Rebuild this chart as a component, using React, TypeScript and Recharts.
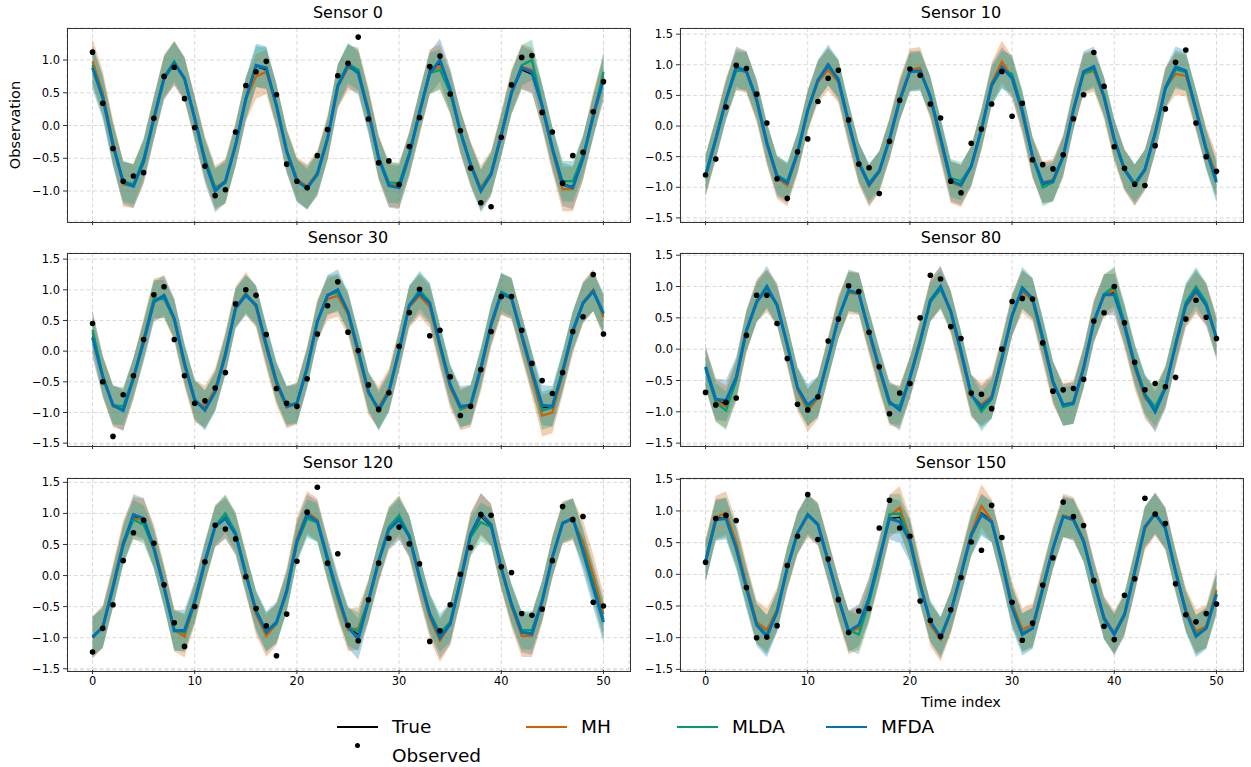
import React from 'react';
import { ComposedChart, Line, Area, XAxis, YAxis, CartesianGrid } from 'recharts';

const TIME = Array.from({ length: 51 }, (_, i) => i);
const X_TICKS = [0, 10, 20, 30, 40, 50];

const COLORS = { truth: '#000000', mh: '#d55e00', mlda: '#029e73', mfda: '#0173b2' };
const BAND = { mh: 0.34, mlda: 0.31, mfda: 0.33 };

// Sensor 0
const s0Obs = [1.12, 0.34, -0.35, -0.85, -0.77, -0.72, 0.11, 0.75, 0.89, 0.41, -0.03, -0.62, -1.07, -0.98, -0.1, 0.61, 0.82, 0.98, 0.47, -0.59, -0.85, -0.95, -0.46, -0.06, 0.76, 0.95, 1.35, 0.1, -0.57, -0.54, -0.9, -0.32, 0.12, 0.9, 1.06, 0.48, -0.08, -0.65, -1.18, -1.24, -0.18, 0.62, 1.04, 1.07, 0.2, -0.1, -0.88, -0.46, -0.41, 0.21, 0.67];
const s0True = [0.92, 0.45, -0.28, -0.85, -0.9, -0.52, 0.12, 0.75, 0.97, 0.7, 0.1, -0.55, -0.97, -0.86, -0.3, 0.4, 0.9, 0.85, 0.3, -0.4, -0.85, -0.95, -0.72, -0.2, 0.6, 0.93, 0.82, 0.2, -0.5, -0.9, -0.93, -0.44, 0.2, 0.85, 0.95, 0.52, -0.1, -0.6, -0.98, -0.73, -0.15, 0.5, 0.85, 0.78, 0.3, -0.35, -0.9, -0.93, -0.48, 0.15, 0.72];
const s0Mh = [0.98, 0.5, -0.25, -0.9, -0.92, -0.55, 0.12, 0.75, 0.95, 0.7, 0.12, -0.5, -0.95, -0.85, -0.28, 0.4, 0.75, 0.82, 0.3, -0.38, -0.82, -0.93, -0.72, -0.18, 0.6, 0.88, 0.85, 0.25, -0.48, -0.9, -0.92, -0.42, 0.18, 0.82, 0.9, 0.5, -0.1, -0.58, -0.95, -0.72, -0.12, 0.52, 0.9, 0.85, 0.28, -0.38, -0.97, -0.97, -0.5, 0.18, 0.75];
const s0Mlda = [0.92, 0.45, -0.28, -0.85, -0.9, -0.5, 0.12, 0.75, 0.98, 0.72, 0.12, -0.5, -0.95, -0.88, -0.3, 0.42, 0.9, 0.88, 0.32, -0.38, -0.82, -0.98, -0.72, -0.2, 0.62, 0.95, 0.85, 0.22, -0.48, -0.87, -0.88, -0.42, 0.22, 0.8, 0.85, 0.5, -0.08, -0.58, -0.98, -0.72, -0.15, 0.5, 0.92, 1.0, 0.32, -0.33, -0.85, -0.85, -0.45, 0.12, 0.82];
const s0Mfda = [0.88, 0.42, -0.3, -0.87, -0.93, -0.55, 0.1, 0.72, 0.95, 0.72, 0.1, -0.55, -1.0, -0.85, -0.3, 0.4, 0.92, 0.88, 0.3, -0.4, -0.85, -0.95, -0.75, -0.2, 0.6, 0.92, 0.8, 0.2, -0.5, -0.92, -0.95, -0.45, 0.2, 0.8, 1.0, 0.55, -0.1, -0.6, -1.0, -0.75, -0.15, 0.5, 0.88, 0.82, 0.3, -0.35, -0.9, -0.95, -0.5, 0.15, 0.7];

// Sensor 10
const s10Obs = [-0.8, -0.54, 0.31, 0.99, 0.94, 0.52, 0.05, -0.86, -1.18, -0.42, -0.21, 0.4, 0.78, 0.91, 0.1, -0.62, -0.68, -1.1, -0.25, 0.42, 0.93, 0.83, 0.36, 0.13, -0.9, -1.09, -0.28, -0.05, 0.36, 0.89, 0.16, 0.37, -0.55, -0.63, -0.7, -0.47, 0.12, 0.51, 1.2, 0.65, -0.34, -0.69, -0.95, -0.97, -0.32, 0.28, 1.04, 1.24, 0.05, -0.5, -0.74];
const s10True = [-0.8, -0.2, 0.44, 0.95, 0.9, 0.42, -0.27, -0.83, -0.95, -0.44, 0.25, 0.74, 0.98, 0.75, 0.05, -0.6, -0.95, -0.75, -0.22, 0.42, 0.9, 0.9, 0.48, -0.2, -0.9, -0.95, -0.65, -0.06, 0.67, 0.97, 0.8, 0.24, -0.5, -0.95, -0.9, -0.5, 0.26, 0.88, 0.95, 0.48, -0.22, -0.7, -0.95, -0.7, -0.12, 0.62, 0.95, 0.88, 0.26, -0.38, -0.9];
const s10Mh = [-0.8, -0.2, 0.45, 0.92, 0.88, 0.4, -0.3, -0.85, -0.97, -0.45, 0.25, 0.72, 0.92, 0.72, 0.02, -0.62, -0.98, -0.75, -0.2, 0.45, 0.92, 0.95, 0.45, -0.25, -0.92, -0.98, -0.65, -0.05, 0.7, 1.05, 0.8, 0.2, -0.52, -0.92, -0.88, -0.48, 0.28, 0.85, 0.9, 0.45, -0.25, -0.72, -0.97, -0.72, -0.1, 0.62, 0.85, 0.82, 0.25, -0.35, -0.8];
const s10Mlda = [-0.78, -0.2, 0.42, 0.9, 0.9, 0.45, -0.25, -0.8, -0.9, -0.42, 0.25, 0.75, 0.97, 0.78, 0.08, -0.58, -0.92, -0.72, -0.2, 0.4, 0.88, 0.9, 0.5, -0.18, -0.85, -0.9, -0.65, -0.05, 0.65, 0.92, 0.85, 0.28, -0.5, -1.0, -0.92, -0.48, 0.25, 0.86, 0.92, 0.48, -0.2, -0.7, -0.93, -0.7, -0.12, 0.6, 0.92, 0.88, 0.28, -0.38, -0.88];
const s10Mfda = [-0.82, -0.22, 0.42, 0.97, 0.89, 0.43, -0.28, -0.82, -0.93, -0.44, 0.26, 0.75, 1.0, 0.75, 0.05, -0.6, -0.96, -0.74, -0.22, 0.42, 0.89, 0.9, 0.48, -0.2, -0.9, -0.96, -0.66, -0.06, 0.67, 0.96, 0.78, 0.24, -0.5, -0.93, -0.9, -0.5, 0.26, 0.89, 0.97, 0.48, -0.22, -0.71, -0.96, -0.71, -0.12, 0.62, 0.97, 0.9, 0.26, -0.39, -0.92];

// Sensor 30
const s30Obs = [0.45, -0.5, -1.39, -0.71, -0.4, 0.19, 0.92, 1.05, 0.19, -0.4, -0.85, -0.81, -0.6, -0.35, 0.77, 1.0, 0.91, 0.27, -0.61, -0.85, -0.9, -0.45, 0.28, 0.74, 1.13, 0.31, 0.01, -0.55, -0.95, -0.68, 0.08, 0.63, 1.01, 0.25, 0.34, -0.42, -1.05, -0.9, -0.3, 0.32, 0.89, 0.89, 0.34, -0.2, -0.48, -0.69, -0.35, 0.32, 0.56, 1.25, 0.28];
const s30True = [0.25, -0.42, -0.9, -0.95, -0.44, 0.16, 0.82, 0.9, 0.52, -0.2, -0.8, -0.95, -0.65, -0.05, 0.7, 0.92, 0.75, 0.1, -0.5, -0.9, -0.85, -0.27, 0.48, 0.9, 0.98, 0.64, 0.0, -0.66, -0.95, -0.66, 0.0, 0.74, 0.95, 0.78, 0.1, -0.55, -0.92, -0.88, -0.28, 0.43, 0.94, 0.86, 0.26, -0.35, -0.92, -0.92, -0.34, 0.32, 0.8, 0.98, 0.6];
const s30Mh = [0.3, -0.4, -0.9, -0.95, -0.45, 0.2, 0.85, 0.88, 0.5, -0.25, -0.82, -0.9, -0.62, -0.02, 0.72, 0.95, 0.72, 0.05, -0.55, -0.92, -0.85, -0.25, 0.5, 0.85, 0.9, 0.6, -0.05, -0.7, -0.92, -0.62, 0.02, 0.72, 0.9, 0.72, 0.05, -0.6, -0.95, -0.9, -0.32, 0.4, 0.92, 0.86, 0.22, -0.4, -1.05, -1.0, -0.38, 0.3, 0.8, 1.0, 0.55];
const s30Mlda = [0.35, -0.4, -0.88, -0.9, -0.42, 0.18, 0.85, 0.85, 0.52, -0.2, -0.78, -0.96, -0.65, -0.05, 0.7, 0.93, 0.75, 0.12, -0.5, -0.88, -0.86, -0.26, 0.48, 0.92, 0.95, 0.65, 0.02, -0.65, -0.98, -0.68, 0.02, 0.75, 1.0, 0.8, 0.12, -0.52, -0.95, -0.86, -0.25, 0.45, 0.97, 0.88, 0.28, -0.32, -0.97, -0.92, -0.32, 0.35, 0.8, 0.96, 0.6];
const s30Mfda = [0.22, -0.42, -0.88, -0.97, -0.44, 0.15, 0.8, 0.91, 0.53, -0.2, -0.8, -0.96, -0.66, -0.06, 0.7, 0.91, 0.75, 0.1, -0.5, -0.9, -0.85, -0.28, 0.48, 0.91, 1.0, 0.64, 0.0, -0.66, -0.96, -0.66, 0.0, 0.75, 0.94, 0.78, 0.1, -0.55, -0.9, -0.88, -0.28, 0.43, 0.94, 0.86, 0.26, -0.33, -0.88, -0.9, -0.33, 0.32, 0.78, 0.98, 0.62];

// Sensor 80
const s80Obs = [-0.69, -0.89, -0.85, -0.78, 0.22, 0.86, 0.86, 0.41, -0.15, -0.88, -0.97, -0.76, 0.13, 0.48, 1.01, 0.92, 0.27, -0.28, -1.03, -0.7, -0.55, 0.5, 1.18, 1.12, 0.36, 0.17, -0.7, -0.72, -0.95, 0.0, 0.76, 0.81, 0.8, 0.1, -0.67, -0.65, -0.63, -0.48, 0.45, 0.58, 1.0, 0.42, -0.21, -0.65, -0.55, -0.6, -0.45, 0.48, 0.78, 0.51, 0.17];
const s80True = [-0.3, -0.82, -0.88, -0.45, 0.3, 0.76, 0.97, 0.7, 0.07, -0.62, -0.92, -0.76, -0.15, 0.49, 0.93, 0.89, 0.28, -0.3, -0.85, -0.95, -0.46, 0.12, 0.78, 0.98, 0.6, -0.04, -0.73, -0.95, -0.78, -0.15, 0.54, 0.96, 0.81, 0.17, -0.52, -0.9, -0.86, -0.3, 0.44, 0.87, 0.9, 0.38, -0.25, -0.73, -0.97, -0.62, 0.07, 0.7, 0.92, 0.72, 0.17];
const s80Mh = [-0.3, -0.82, -0.92, -0.5, 0.28, 0.78, 0.93, 0.72, 0.05, -0.65, -0.98, -0.78, -0.12, 0.52, 0.9, 0.88, 0.25, -0.35, -0.88, -0.92, -0.45, 0.15, 0.78, 0.98, 0.58, -0.08, -0.75, -0.88, -0.75, -0.12, 0.55, 0.92, 0.78, 0.12, -0.55, -0.88, -0.85, -0.28, 0.45, 0.85, 0.95, 0.35, -0.3, -0.78, -0.95, -0.6, 0.05, 0.68, 0.9, 0.72, 0.2];
const s80Mlda = [-0.32, -0.85, -0.98, -0.5, 0.28, 0.75, 0.95, 0.7, 0.08, -0.6, -0.93, -0.75, -0.15, 0.48, 0.92, 0.9, 0.3, -0.3, -0.88, -0.9, -0.45, 0.12, 0.75, 0.95, 0.62, -0.02, -0.72, -1.0, -0.8, -0.15, 0.52, 0.95, 0.82, 0.2, -0.5, -0.92, -0.88, -0.3, 0.42, 0.88, 1.0, 0.42, -0.22, -0.72, -0.92, -0.6, 0.08, 0.75, 1.0, 0.75, 0.18];
const s80Mfda = [-0.28, -0.8, -0.82, -0.45, 0.3, 0.75, 1.0, 0.7, 0.07, -0.62, -0.89, -0.76, -0.15, 0.49, 0.94, 0.89, 0.28, -0.3, -0.84, -0.97, -0.46, 0.12, 0.78, 1.0, 0.6, -0.04, -0.73, -0.92, -0.78, -0.15, 0.54, 0.98, 0.81, 0.17, -0.52, -0.89, -0.86, -0.3, 0.44, 0.87, 0.87, 0.38, -0.25, -0.73, -1.0, -0.62, 0.07, 0.7, 0.94, 0.7, 0.17];

// Sensor 120
const s120Obs = [-1.23, -0.85, -0.47, 0.24, 0.69, 0.89, 0.52, -0.15, -0.76, -1.14, -0.5, 0.22, 0.81, 0.75, 0.59, -0.02, -0.53, -0.81, -1.29, -0.62, 0.23, 1.02, 1.42, 0.2, 0.35, -0.8, -1.05, -0.39, 0.2, 0.6, 0.78, 0.51, 0.19, -1.06, -0.89, -0.47, 0.02, 0.45, 0.98, 0.97, 0.14, 0.05, -0.61, -0.64, -0.54, 0.24, 1.11, 0.9, 0.95, -0.43, -0.49];
const s120True = [-1.0, -0.83, -0.18, 0.5, 0.95, 0.9, 0.45, -0.18, -0.88, -0.92, -0.42, 0.22, 0.8, 0.94, 0.66, 0.02, -0.57, -0.92, -0.76, -0.25, 0.55, 0.97, 0.87, 0.25, -0.35, -0.83, -0.95, -0.41, 0.23, 0.75, 0.92, 0.63, -0.03, -0.62, -0.98, -0.78, -0.09, 0.65, 0.95, 0.8, 0.12, -0.46, -0.92, -0.93, -0.41, 0.29, 0.84, 0.92, 0.42, -0.15, -0.72];
const s120Mh = [-1.0, -0.82, -0.15, 0.55, 0.92, 0.9, 0.48, -0.15, -0.88, -0.98, -0.45, 0.2, 0.8, 0.95, 0.68, 0.05, -0.62, -0.97, -0.78, -0.22, 0.6, 1.02, 0.9, 0.25, -0.38, -0.88, -0.85, -0.4, 0.22, 0.78, 0.95, 0.62, -0.05, -0.68, -1.05, -0.78, -0.08, 0.68, 0.98, 0.82, 0.1, -0.5, -0.97, -0.97, -0.42, 0.3, 0.86, 0.9, 0.55, 0.0, -0.62];
const s120Mlda = [-0.98, -0.85, -0.2, 0.48, 0.9, 0.82, 0.42, -0.2, -0.88, -0.92, -0.45, 0.2, 0.8, 1.0, 0.7, 0.05, -0.55, -0.9, -0.78, -0.28, 0.52, 0.92, 0.85, 0.22, -0.35, -0.82, -0.9, -0.4, 0.25, 0.78, 0.97, 0.65, 0.0, -0.6, -0.92, -0.75, -0.08, 0.62, 0.86, 0.78, 0.12, -0.45, -0.88, -0.88, -0.4, 0.3, 0.85, 0.93, 0.45, -0.12, -0.7];
const s120Mfda = [-0.99, -0.83, -0.19, 0.5, 0.98, 0.92, 0.44, -0.19, -0.89, -0.88, -0.41, 0.23, 0.79, 0.92, 0.66, 0.02, -0.57, -0.91, -0.75, -0.25, 0.55, 0.98, 0.87, 0.28, -0.3, -0.83, -1.02, -0.41, 0.23, 0.74, 0.9, 0.63, -0.03, -0.62, -1.0, -0.78, -0.09, 0.66, 1.0, 0.82, 0.12, -0.46, -0.91, -0.94, -0.41, 0.29, 0.84, 0.92, 0.39, -0.19, -0.75];

// Sensor 150
const s150Obs = [0.19, 0.88, 0.93, 0.85, -0.21, -1.0, -0.99, -0.81, 0.14, 0.6, 1.26, 0.55, 0.24, -0.4, -0.92, -0.58, -0.54, 0.73, 1.17, 0.73, 0.6, -0.42, -0.73, -0.98, -0.56, -0.05, 0.51, 0.38, 1.09, 0.58, -0.44, -1.04, -0.77, -0.17, 0.26, 1.14, 0.91, 0.77, -0.1, -0.82, -1.03, -0.33, -0.07, 1.2, 0.95, 0.8, -0.15, -0.64, -0.75, -0.62, -0.47];
const s150True = [0.22, 0.88, 0.9, 0.42, -0.2, -0.8, -0.95, -0.58, 0.1, 0.65, 0.95, 0.8, 0.2, -0.38, -0.9, -0.85, -0.4, 0.25, 0.88, 0.9, 0.55, -0.17, -0.75, -1.0, -0.6, 0.0, 0.62, 0.97, 0.85, 0.2, -0.52, -0.93, -0.85, -0.22, 0.41, 0.92, 0.88, 0.52, -0.11, -0.7, -0.95, -0.64, 0.04, 0.75, 0.96, 0.73, 0.04, -0.59, -0.95, -0.85, -0.32];
const s150Mh = [0.22, 0.9, 0.97, 0.5, -0.15, -0.75, -0.88, -0.55, 0.1, 0.65, 0.92, 0.8, 0.22, -0.4, -0.92, -0.85, -0.4, 0.2, 0.92, 1.05, 0.58, -0.1, -0.8, -1.03, -0.6, 0.02, 0.65, 1.08, 0.85, 0.2, -0.45, -0.87, -0.8, -0.2, 0.42, 0.93, 0.88, 0.55, -0.1, -0.68, -0.92, -0.62, 0.05, 0.72, 0.95, 0.72, 0.05, -0.55, -0.9, -0.82, -0.25];
const s150Mlda = [0.2, 0.85, 0.9, 0.42, -0.2, -0.78, -0.95, -0.58, 0.12, 0.65, 0.95, 0.8, 0.22, -0.38, -0.88, -0.95, -0.45, 0.2, 0.95, 0.96, 0.55, -0.15, -0.75, -0.98, -0.58, 0.0, 0.6, 0.95, 0.82, 0.22, -0.5, -0.92, -0.85, -0.25, 0.4, 0.9, 0.88, 0.5, -0.12, -0.72, -0.93, -0.62, 0.05, 0.75, 0.96, 0.72, 0.05, -0.58, -0.95, -0.85, -0.3];
const s150Mfda = [0.2, 0.86, 0.88, 0.41, -0.22, -0.8, -0.98, -0.59, 0.1, 0.65, 0.94, 0.78, 0.2, -0.38, -0.9, -0.8, -0.38, 0.25, 0.88, 0.83, 0.52, -0.17, -0.74, -1.0, -0.59, 0.0, 0.62, 0.94, 0.83, 0.2, -0.53, -0.95, -0.85, -0.22, 0.41, 0.91, 0.86, 0.52, -0.11, -0.69, -0.95, -0.64, 0.04, 0.75, 0.96, 0.73, 0.04, -0.59, -0.98, -0.85, -0.32];

const TICKS_1 = [-1, -0.5, 0, 0.5, 1];
const TICKS_15 = [-1.5, -1, -0.5, 0, 0.5, 1, 1.5];

const PLOT_W = 562;
const Y_AXIS_W = 50;
const PAD_T = 5;
const PAD_R = 5;
const X_AXIS_H = 30;
const FONT = '"DejaVu Sans", sans-serif';

const panels = [
  { title: 'Sensor 0', obs: s0Obs, truth: s0True, mh: s0Mh, mlda: s0Mlda, mfda: s0Mfda, domain: [-1.458, 1.489], ticks: TICKS_1, left: 67, top: 28, h: 193, xLabels: false },
  { title: 'Sensor 10', obs: s10Obs, truth: s10True, mh: s10Mh, mlda: s10Mlda, mfda: s10Mfda, domain: [-1.55, 1.6], ticks: TICKS_15, left: 680, top: 28, h: 193, xLabels: false },
  { title: 'Sensor 30', obs: s30Obs, truth: s30True, mh: s30Mh, mlda: s30Mlda, mfda: s30Mfda, domain: [-1.53, 1.6], ticks: TICKS_15, left: 67, top: 253, h: 192, xLabels: false },
  { title: 'Sensor 80', obs: s80Obs, truth: s80True, mh: s80Mh, mlda: s80Mlda, mfda: s80Mfda, domain: [-1.53, 1.535], ticks: TICKS_15, left: 680, top: 253, h: 192, xLabels: false },
  { title: 'Sensor 120', obs: s120Obs, truth: s120True, mh: s120Mh, mlda: s120Mlda, mfda: s120Mfda, domain: [-1.52, 1.57], ticks: TICKS_15, left: 67, top: 478, h: 192, xLabels: true },
  { title: 'Sensor 150', obs: s150Obs, truth: s150True, mh: s150Mh, mlda: s150Mlda, mfda: s150Mfda, domain: [-1.51, 1.52], ticks: TICKS_15, left: 680, top: 478, h: 192, xLabels: true },
];

const fmtY = (v: number) => v.toFixed(1).replace('-', '\u2212');

function Panel({ p }: { p: (typeof panels)[number] }) {
  const data = TIME.map((t, i) => ({
    t,
    obs: p.obs[i],
    truth: p.truth[i],
    mh: p.mh[i],
    mlda: p.mlda[i],
    mfda: p.mfda[i],
    mhBand: [p.mh[i] - BAND.mh, p.mh[i] + BAND.mh],
    mldaBand: [p.mlda[i] - BAND.mlda, p.mlda[i] + BAND.mlda],
    mfdaBand: [p.mfda[i] - BAND.mfda, p.mfda[i] + BAND.mfda],
  }));
  const tickStyle = { fontSize: 11.5, fill: '#000', fontFamily: FONT };

  return (
    <>
      <div
        style={{
          position: 'absolute',
          left: p.left,
          top: p.top - 26,
          width: PLOT_W,
          textAlign: 'center',
          fontSize: 16,
          lineHeight: '22px',
          fontFamily: FONT,
        }}
      >
        {p.title}
      </div>
      <div style={{ position: 'absolute', left: p.left - Y_AXIS_W, top: p.top - PAD_T }}>
        <ComposedChart
          width={PLOT_W + Y_AXIS_W + PAD_R}
          height={p.h + PAD_T + X_AXIS_H}
          data={data}
          margin={{ top: PAD_T, right: PAD_R, bottom: 0, left: 0 }}
        >
          <CartesianGrid stroke="#cfcfcf" strokeDasharray="4 2.5" strokeWidth={0.8} />
          <XAxis
            dataKey="t"
            type="number"
            domain={[-2.5, 52.5]}
            ticks={X_TICKS}
            allowDataOverflow
            axisLine={false}
            tickLine={{ stroke: '#333' }}
            tickSize={4}
            tickMargin={3}
            height={X_AXIS_H}
            tick={tickStyle}
            tickFormatter={(v: number) => (p.xLabels ? String(v) : '')}
          />
          <YAxis
            type="number"
            domain={p.domain}
            ticks={p.ticks}
            allowDataOverflow
            axisLine={false}
            tickLine={{ stroke: '#333' }}
            tickSize={4}
            tickMargin={3}
            width={Y_AXIS_W}
            tick={tickStyle}
            tickFormatter={fmtY}
          />
          <Area type="linear" dataKey="mfdaBand" fill={COLORS.mfda} fillOpacity={0.3} stroke="none" isAnimationActive={false} />
          <Area type="linear" dataKey="mhBand" fill={COLORS.mh} fillOpacity={0.3} stroke="none" isAnimationActive={false} />
          <Area type="linear" dataKey="mldaBand" fill={COLORS.mlda} fillOpacity={0.3} stroke="none" isAnimationActive={false} />
          <Line
            type="linear"
            dataKey="obs"
            stroke="transparent"
            strokeWidth={0}
            dot={{ r: 2.8, fill: '#000', stroke: 'none' }}
            activeDot={false}
            isAnimationActive={false}
          />
          <Line type="linear" dataKey="truth" stroke={COLORS.truth} strokeWidth={1.5} dot={false} isAnimationActive={false} />
          <Line type="linear" dataKey="mh" stroke={COLORS.mh} strokeWidth={2.3} dot={false} isAnimationActive={false} />
          <Line type="linear" dataKey="mlda" stroke={COLORS.mlda} strokeWidth={2.3} dot={false} isAnimationActive={false} />
          <Line type="linear" dataKey="mfda" stroke={COLORS.mfda} strokeWidth={3} dot={false} isAnimationActive={false} />
        </ComposedChart>
        <div
          style={{
            position: 'absolute',
            left: Y_AXIS_W - 0.5,
            top: PAD_T - 0.5,
            width: PLOT_W,
            height: p.h,
            border: '1px solid #333',
            pointerEvents: 'none',
          }}
        />
      </div>
    </>
  );
}

const legendText = { position: 'absolute' as const, fontSize: 18.5, fontFamily: FONT, lineHeight: '22px' };

function Legend() {
  const items = [
    { label: 'True', color: COLORS.truth, x: 337 },
    { label: 'MH', color: COLORS.mh, x: 526 },
    { label: 'MLDA', color: COLORS.mlda, x: 677 },
    { label: 'MFDA', color: COLORS.mfda, x: 826 },
  ];
  return (
    <>
      {items.map((it) => (
        <React.Fragment key={it.label}>
          <div style={{ position: 'absolute', left: it.x, top: 726, width: 41, height: 2.2, background: it.color }} />
          <div style={{ ...legendText, left: it.x + 55, top: 716 }}>{it.label}</div>
        </React.Fragment>
      ))}
      <div style={{ position: 'absolute', left: 355, top: 743, width: 5, height: 5, borderRadius: '50%', background: '#000' }} />
      <div style={{ ...legendText, left: 392, top: 745 }}>Observed</div>
    </>
  );
}

export default function App() {
  return (
    <div style={{ position: 'absolute', left: 0, top: 0, width: 1251, height: 767, background: '#fff', overflow: 'hidden' }}>
      {panels.map((p) => (
        <Panel key={p.title} p={p} />
      ))}
      <div
        style={{
          position: 'absolute',
          left: 15 - 60,
          top: 125 - 10,
          width: 120,
          height: 20,
          lineHeight: '20px',
          textAlign: 'center',
          fontSize: 14.5,
          fontFamily: FONT,
          transform: 'rotate(-90deg)',
        }}
      >
        Observation
      </div>
      <div
        style={{
          position: 'absolute',
          left: 680,
          top: 692,
          width: PLOT_W,
          textAlign: 'center',
          fontSize: 14.5,
          lineHeight: '20px',
          fontFamily: FONT,
        }}
      >
        Time index
      </div>
      <Legend />
    </div>
  );
}
